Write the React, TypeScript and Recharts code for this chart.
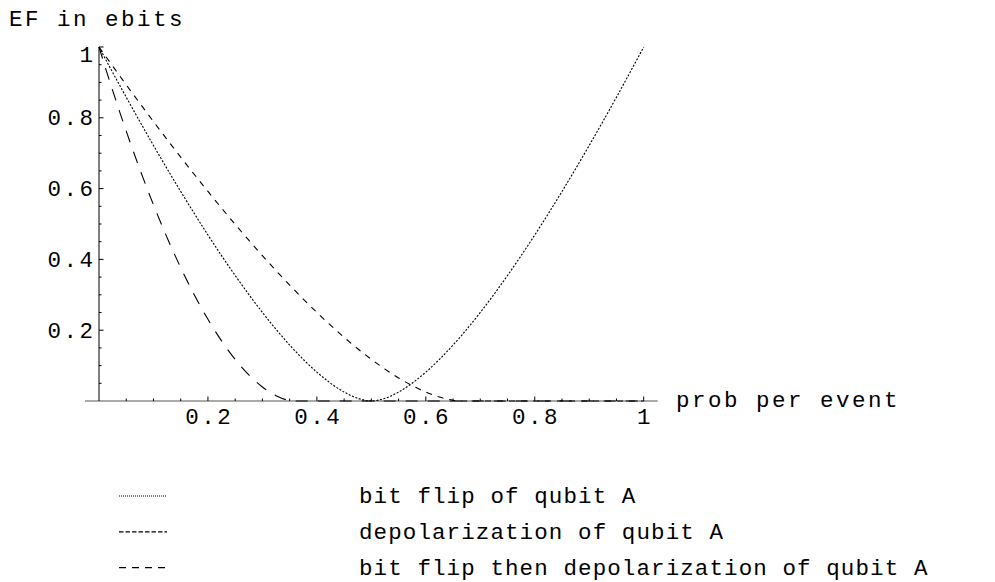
import { LineChart, Line, XAxis, YAxis, ReferenceLine } from "recharts";

// probability per event (x) and entanglement of formation in ebits (y)
const probs = [0, 0.01, 0.05, 0.1, 0.15, 0.2, 0.25, 0.275, 0.3, 0.325, 0.35, 0.36, 0.4, 0.45, 0.475, 0.5, 0.525, 0.55, 0.6, 0.625, 0.65, 0.6667, 0.7, 0.75, 0.8, 0.85, 0.9, 0.95, 1];

const bitFlip = [1, 0.9712, 0.8582, 0.7219, 0.5919, 0.469, 0.3546, 0.301, 0.2502, 0.2025, 0.1581, 0.1414, 0.0815, 0.0253, 0.0076, 0, 0.0076, 0.0253, 0.0815, 0.1176, 0.1581, 0.187, 0.2502, 0.3546, 0.469, 0.5919, 0.7219, 0.8582, 1];
const depolarization = [1, 0.9784, 0.8932, 0.7894, 0.6888, 0.5919, 0.499, 0.4542, 0.4106, 0.3684, 0.3275, 0.3115, 0.2502, 0.1799, 0.1476, 0.1176, 0.0901, 0.0652, 0.0253, 0.0112, 0.0022, 0, 0, 0, 0, 0, 0, 0, 0];
const bitFlipThenDepol = [1, 0.9501, 0.7622, 0.5542, 0.3767, 0.2307, 0.1176, 0.074, 0.0395, 0.0149, 0.0015, 0, 0, 0, 0, 0, 0, 0, 0, 0, 0, 0, 0, 0, 0, 0, 0, 0, 0];

const seriesNames = ["bit flip of qubit A", "depolarization of qubit A", "bit flip then depolarization of qubit A"];

const xTicks = [0.05, 0.1, 0.15, 0.2, 0.25, 0.3, 0.35, 0.4, 0.45, 0.5, 0.55, 0.6, 0.65, 0.7, 0.75, 0.8, 0.85, 0.9, 0.95, 1];
const xLabels = [0.2, 0.4, 0.6, 0.8, 1];
const yTicks = [0.05, 0.1, 0.15, 0.2, 0.25, 0.3, 0.35, 0.4, 0.45, 0.5, 0.55, 0.6, 0.65, 0.7, 0.75, 0.8, 0.85, 0.9, 0.95, 1];
const yLabels = [0.2, 0.4, 0.6, 0.8, 1];

const rows = probs.map((p, i) => ({
  p,
  bitFlip: bitFlip[i],
  depol: depolarization[i],
  both: bitFlipThenDepol[i],
}));

const FONT = "'Liberation Mono', 'Courier New', monospace";
const plotDash = ["2 1.6", "6 6", "12 10"];
const legendDash = ["1 1", "4.5 2", "7 6"];

const XTick = ({ x, y, payload }: any) => {
  const v = payload.value;
  const major = xLabels.includes(v);
  return (
    <g>
      <line x1={x} y1={y} x2={x} y2={y - (major ? 4.5 : 2.5)} stroke="#000" strokeWidth={1} />
      {major && (
        <text x={x + 1.3} y={y + 23} textAnchor="middle" fill="#000"
          style={{ fontFamily: FONT, fontSize: 22.5, letterSpacing: 2.5 }}>
          {String(v)}
        </text>
      )}
    </g>
  );
};

const YTick = ({ x, y, payload }: any) => {
  const v = payload.value;
  const major = yLabels.includes(v);
  // the top label sits a little below its tick, as in the original
  const shift = v === 1 ? 7 : 0;
  return (
    <g>
      <line x1={x} y1={y} x2={x + (major ? 4.5 : 2.5)} y2={y} stroke="#000" strokeWidth={1} />
      {major && (
        <text x={x - 3.5} y={y + 7.6 + shift} textAnchor="end" fill="#000"
          style={{ fontFamily: FONT, fontSize: 22.5, letterSpacing: 2.5 }}>
          {String(v)}
        </text>
      )}
    </g>
  );
};

export default function App() {
  const keys = ["bitFlip", "depol", "both"];
  return (
    <div style={{ position: "absolute", left: 0, top: 0, width: 995, height: 582, background: "#fff" }}>
      <LineChart width={995} height={582} data={rows} margin={{ top: 47, right: 351.3, left: 0, bottom: 0 }}>
        <XAxis
          type="number"
          dataKey="p"
          domain={[0, 1]}
          ticks={xTicks}
          interval={0}
          height={181}
          axisLine={false}
          tickLine={false}
          tickSize={0}
          tickMargin={0}
          tick={(p: any) => <XTick {...p} />}
        />
        <YAxis
          type="number"
          domain={[0, 1]}
          ticks={yTicks}
          interval={0}
          width={99}
          axisLine={{ stroke: "#000", strokeWidth: 1 }}
          tickLine={false}
          tickSize={0}
          tickMargin={0}
          tick={(p: any) => <YTick {...p} />}
        />
        <ReferenceLine
          segment={[{ x: -0.0257, y: 0 }, { x: 1.0257, y: 0 }]}
          stroke="#555"
          strokeWidth={1.2}
          ifOverflow="visible"
        />
        {keys.map((k, i) => (
          <Line
            key={k}
            type="monotone"
            dataKey={k}
            stroke="#000"
            strokeWidth={1.1}
            strokeDasharray={plotDash[i]}
            dot={false}
            activeDot={false}
            isAnimationActive={false}
          />
        ))}
      </LineChart>

      {/* axis titles and legend */}
      <svg width={995} height={582} style={{ position: "absolute", left: 0, top: 0, pointerEvents: "none" }}>
        <text x={9} y={26} fill="#000" style={{ fontFamily: FONT, fontSize: 22.5, letterSpacing: 2.5 }}>
          EF in ebits
        </text>
        <text x={676} y={407} fill="#000" style={{ fontFamily: FONT, fontSize: 22.5, letterSpacing: 2.5 }}>
          prob per event
        </text>
        {seriesNames.map((name, i) => (
          <g key={name}>
            <line x1={119} x2={167} y1={496 + i * 35.8} y2={496 + i * 35.8} stroke="#000"
              strokeWidth={1.2} strokeDasharray={legendDash[i]} />
            <text x={359} y={503.3 + i * 35.8} fill="#000"
              style={{ fontFamily: FONT, fontSize: 22.5, letterSpacing: 1.1 }}>
              {name}
            </text>
          </g>
        ))}
      </svg>
    </div>
  );
}
